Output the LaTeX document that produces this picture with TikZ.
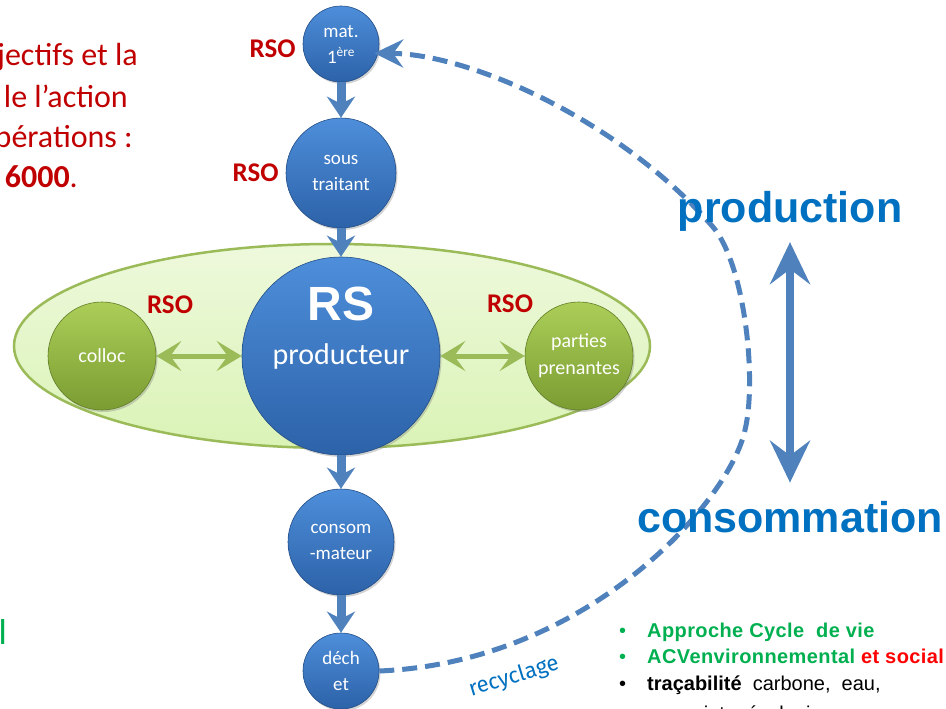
\documentclass[tikz,border=0pt]{standalone}
\usepackage{fontspec}
\setmainfont{Carlito}
\newfontfamily\arial{Liberation Sans}
\newfontfamily\handfont{Fira Sans}
\usetikzlibrary{arrows.meta,positioning,shadows}

\definecolor{ballblue}{RGB}{79,129,189}
\definecolor{balltop}{RGB}{78,142,218}
\definecolor{ballbot}{RGB}{44,98,168}
\definecolor{leaftop}{RGB}{172,206,88}
\definecolor{leafbot}{RGB}{122,156,50}
\definecolor{leafline}{RGB}{155,187,89}
\definecolor{zonetop}{RGB}{238,249,220}
\definecolor{zonebot}{RGB}{218,243,182}
\definecolor{rsored}{RGB}{192,0,0}
\definecolor{titleblue}{RGB}{0,112,192}
\definecolor{acvgreen}{RGB}{0,176,80}

\newcommand{\fsz}[2]{\fontsize{#1}{#2}\selectfont}

\begin{document}
\begin{tikzpicture}[x=1pt,y=-1pt,
  blue node/.style={circle,inner sep=0pt,top color=balltop,bottom color=ballbot,
    draw=ballbot!80!black,line width=0.6pt,text=white,align=center,
    drop shadow={opacity=0.35,shadow xshift=1.5pt,shadow yshift=-2pt},font=\fsz{19}{26}},
  green node/.style={blue node,top color=leaftop,bottom color=leafbot,draw=leafbot!80!black},
  rso/.style={font=\bfseries\fsz{27}{27},text=rsored,inner sep=0pt},
  flow/.style={-{Stealth[length=21pt,width=28pt,inset=7pt]},line width=9pt,draw=ballblue},
  link/.style={{Stealth[length=25pt,width=30pt,inset=11pt]}-{Stealth[length=25pt,width=30pt,inset=11pt]},
    line width=5pt,draw=leafline},
  updown/.style={{Stealth[length=42pt,width=40pt,inset=15pt]}-{Stealth[length=42pt,width=40pt,inset=15pt]},
    line width=8pt,draw=ballblue,shorten <=11pt,shorten >=18pt},
  big/.style={font=\arial\bfseries\fsz{43}{43},text=titleblue,inner sep=0pt,anchor=base},
  item/.style={font=\arial\fsz{20}{20},anchor=base west,inner sep=0pt},
  note/.style={font=\fsz{32}{32},text=rsored,anchor=base east,inner sep=0pt}]

  \useasboundingbox (0,0) rectangle (946,709);

  % texte coupe a gauche
  \node[note] (n1) at (138,66) {jectifs et la};
  \node[note] (n2) at (128,107) {le l’action};
  \node[note] (n3) at (133,147) {pérations :};
  \node[note] (n4) at (78,187) {\textbf{6000}.};
  \node[note,text=acvgreen,font=\fsz{36}{36}] (n5) at (7,644) {l};

  % zone verte
  \draw[line width=2.5pt,draw=leafline,top color=zonetop,bottom color=zonebot]
    (332,346) ellipse [x radius=318pt,y radius=102pt];

  \node[blue node,minimum size=76pt] (1) at (341,44) {mat.\\1\textsuperscript{ère}};
  \node[blue node,minimum size=110pt] (2) at (341,173) {sous\\traitant};
  \node[blue node,minimum size=198pt,font=\fsz{30}{30},
    label={[text=white,font=\arial\bfseries\fsz{48}{48},yshift=52pt]center:RS}] (3) at (341,356) {producteur};
  \node[blue node,minimum size=106pt] (4) at (341,542) {consom\\-mateur};
  \node[blue node,minimum size=76pt] (5) at (341,671) {déch\\et};
  \node[green node,minimum size=108pt,font=\fsz{20}{27}] (6) at (102,356) {colloc};
  \node[green node,minimum size=108pt,font=\fsz{20}{27}] (7) at (579,356) {parties\\prenantes};

  \node[rso,left=7pt of 1,yshift=-5pt] (r1) {RSO};
  \node[rso,left=7pt of 2] (r2) {RSO};
  \node[rso] (r3) at (170,305) {RSO};
  \node[rso] (r4) at (510,304) {RSO};

  \path (1) edge[flow] (2)
        (2) edge[flow] (3)
        (3) edge[flow] (4)
        (4) edge[flow] (5)
        (6) edge[link] (3)
        (3) edge[link] (7);

  % boucle de recyclage
  \draw[ballblue,line width=5pt,dash pattern=on 15pt off 8pt,
    -{Stealth[length=29pt,width=28pt,inset=10pt]},shorten >=-4pt]
    (5.east) .. controls (590,662) and (730,500) .. (745,430)
    .. controls (757,380) and (745,265) .. (713,227)
    .. controls (620,120) and (470,54) .. (1.-14);
  \node[font=\handfont\fsz{22}{22},text=titleblue,rotate=17] (rc) at (514,677) {recyclage};

  \node[big] (8) at (790,222) {production};
  \node[big] (9) at (790,532) {consommation};
  \path (8) edge[updown] (9);

  \node[item,text=acvgreen] (l1) at (619,637)
    {\makebox[28pt][l]{•}\textbf{\addfontfeature{LetterSpace=2}Approche Cycle\ \ de vie}};
  \node[item,text=acvgreen] (l2) at (619,663)
    {\makebox[28pt][l]{•}\textbf{\addfontfeature{LetterSpace=2}ACVenvironnemental \textcolor{red}{et social}}};
  \node[item] (l3) at (619,690)
    {\makebox[28pt][l]{•}\textbf{traçabilité}\ \ carbone,\ \ eau,};
  \node[item] (l4) at (619,720) {\hspace{28pt}empreinte\ \ écologique};
\end{tikzpicture}
\end{document}
